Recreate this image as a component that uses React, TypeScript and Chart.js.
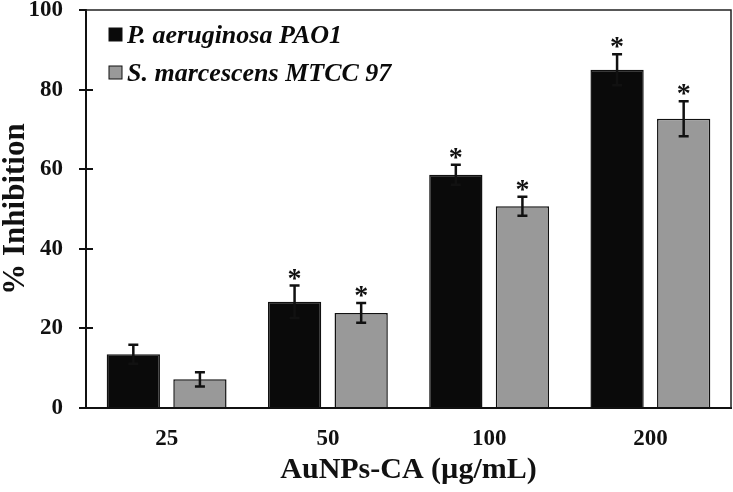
import React, { useEffect, useRef } from "react";
import { Chart, registerables } from "chart.js";

Chart.register(...registerables);

const categories = ["25", "50", "100", "200"];
const paoValues = [13.5, 26.7, 58.6, 85.0];
const paoErrors = [2.4, 4.1, 2.5, 3.9];
const smValues = [7.2, 23.9, 50.7, 72.7];
const smErrors = [1.8, 2.5, 2.4, 4.4];
const paoSig = [false, true, true, true];
const smSig = [false, true, true, true];
const seriesNames = ["P. aeruginosa PAO1", "S. marcescens MTCC 97"];
const yTicks = [0, 20, 40, 60, 80, 100];

const FONT = "'Liberation Serif', 'Times New Roman', serif";

const errorPlugin = {
  id: "errorBars",
  afterDatasetsDraw(chart: any) {
    const ctx = chart.ctx;
    const y = chart.scales.y;
    const errs = [paoErrors, smErrors];
    const sigs = [paoSig, smSig];
    const a = chart.chartArea;
    ctx.save();
    // inward tick marks
    ctx.strokeStyle = "#111";
    ctx.lineWidth = 2;
    ctx.beginPath();
    yTicks.forEach((t) => {
      if (t === 0 || t === 100) return;
      const py = Math.round(y.getPixelForValue(t));
      ctx.moveTo(a.left, py);
      ctx.lineTo(a.left + 7, py);
    });
    ctx.stroke();
    chart.data.datasets.forEach((ds: any, di: number) => {
      const meta = chart.getDatasetMeta(di);
      meta.data.forEach((bar: any, i: number) => {
        const v = ds.data[i];
        const e = errs[di][i];
        const x = bar.x;
        const yt = y.getPixelForValue(v + e);
        const yb = y.getPixelForValue(v - e);
        ctx.strokeStyle = "#111";
        ctx.lineWidth = 2.5;
        ctx.beginPath();
        ctx.moveTo(x, yt);
        ctx.lineTo(x, yb);
        ctx.moveTo(x - 5, yt);
        ctx.lineTo(x + 5, yt);
        ctx.moveTo(x - 5, yb);
        ctx.lineTo(x + 5, yb);
        ctx.stroke();
        if (sigs[di][i]) {
          ctx.fillStyle = "#111";
          ctx.font = `bold 28px ${FONT}`;
          ctx.textAlign = "center";
          ctx.textBaseline = "middle";
          ctx.fillText("*", x, yt - 6);
        }
      });
    });
    // frame top & right
    ctx.strokeStyle = "#222";
    ctx.lineWidth = 1.5;
    ctx.beginPath();
    ctx.moveTo(a.left, a.top);
    ctx.lineTo(a.right, a.top);
    ctx.lineTo(a.right, a.bottom);
    ctx.stroke();
    // legend
    const colors = ["#0a0a0a", "#999999"];
    const ys = [35, 73];
    ctx.font = `italic bold 26px ${FONT}`;
    ctx.textAlign = "left";
    ctx.textBaseline = "middle";
    seriesNames.forEach((n, k) => {
      ctx.fillStyle = colors[k];
      ctx.fillRect(109, ys[k] - 7, 13, 13);
      ctx.strokeStyle = "#111";
      ctx.lineWidth = 1;
      ctx.strokeRect(109, ys[k] - 7, 13, 13);
      ctx.fillStyle = "#0a0a0a";
      ctx.fillText(n, 127, ys[k] + 1);
    });
    ctx.restore();
  },
};

export default function App() {
  const ref = useRef<HTMLCanvasElement>(null);
  useEffect(() => {
    document.body.style.margin = "0";
    const chart = new Chart(ref.current!, {
      type: "bar",
      data: {
        labels: categories,
        datasets: [
          {
            label: seriesNames[0],
            data: paoValues,
            backgroundColor: "#0a0a0a",
            borderColor: "#111",
            borderWidth: 1.5,
            categoryPercentage: 0.826,
            barPercentage: 0.8,
          },
          {
            label: seriesNames[1],
            data: smValues,
            backgroundColor: "#999999",
            borderColor: "#111",
            borderWidth: 1.5,
            categoryPercentage: 0.826,
            barPercentage: 0.8,
          },
        ],
      },
      options: {
        animation: false,
        responsive: false,
        layout: { autoPadding: false, padding: { top: 10, right: 2, left: 0, bottom: 0 } },
        plugins: { legend: { display: false }, tooltip: { enabled: false } },
        scales: {
          x: {
            grid: { display: false, drawTicks: false },
            border: { display: true, color: "#111", width: 2 },
            ticks: {
              color: "#111",
              padding: 17,
              font: { family: FONT, size: 23, weight: "bold" },
            },
            title: {
              display: true,
              text: "AuNPs-CA (µg/mL)",
              color: "#111",
              font: { family: FONT, size: 30, weight: "bold" },
              padding: { top: 0, bottom: 4 },
            },
            afterFit: (s: any) => {
              s.height = 84;
              s.paddingLeft = 0;
              s.paddingRight = 0;
            },
          },
          y: {
            min: 0,
            max: 100,
            afterBuildTicks: (s: any) => {
              s.ticks = yTicks.map((v) => ({ value: v }));
            },
            grid: {
              drawOnChartArea: false,
              drawTicks: true,
              tickLength: 7,
              color: "#111",
              lineWidth: 2,
            },
            border: { display: true, color: "#111", width: 2 },
            ticks: {
              color: "#111",
              padding: 16,
              font: { family: FONT, size: 23, weight: "bold" },
            },
            title: {
              display: true,
              text: "% Inhibition",
              color: "#111",
              font: { family: FONT, size: 31, weight: "bold" },
              padding: { top: -3, bottom: 0 },
            },
            afterFit: (s: any) => {
              s.width = 86;
              s.paddingTop = 0;
              s.paddingBottom = 0;
            },
          },
        },
      },
      plugins: [errorPlugin],
    });
    return () => chart.destroy();
  }, []);
  return (
    <div style={{ width: 733, height: 492 }}>
      <canvas ref={ref} width={733} height={492} style={{ display: "block" }} />
    </div>
  );
}
